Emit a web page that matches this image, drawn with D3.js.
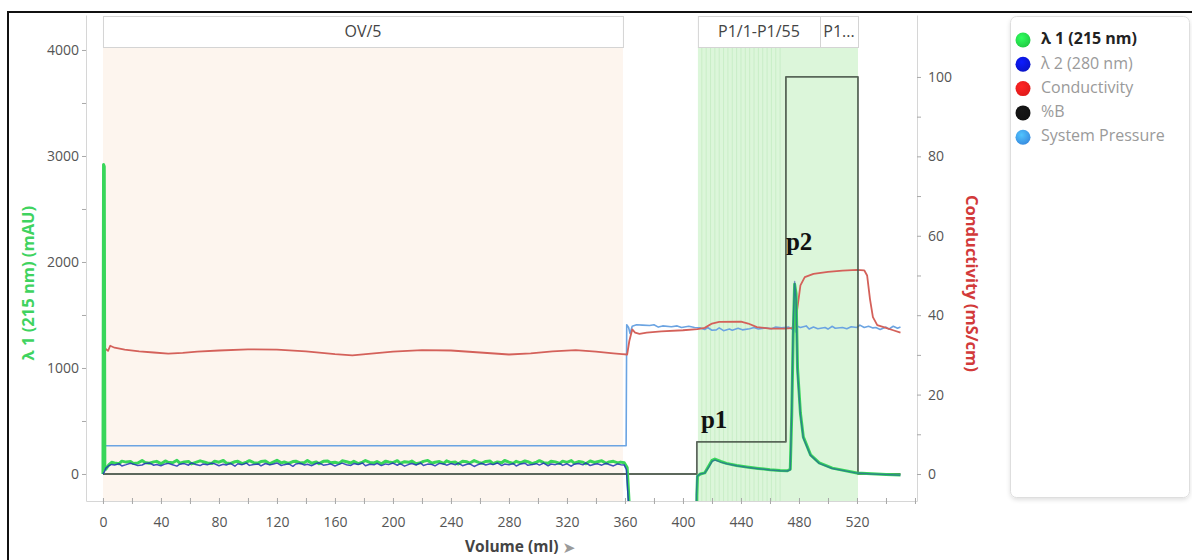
<!DOCTYPE html>
<html>
<head>
<meta charset="utf-8">
<script src="https://cdn.jsdelivr.net/npm/d3@7"></script>
<style>
  body { margin: 0; background: #fff; }
  text { font-family: "Open Sans", "Noto Sans", sans-serif; }
</style>
</head>
<body>
<svg id="chart" width="1192" height="560"></svg>
<script>
// ---- data (volume in ml) ----
const seriesNames = ["λ 1 (215 nm)", "λ 2 (280 nm)", "Conductivity", "%B", "System Pressure"];

// λ 1 (215 nm), mAU
const uv215 = [
  [0, 0], [0.4, 2920], [0.9, 2900], [1.3, 60], [2, 45], [4, 85], [6, 110], [8, 104], [11, 96], [13, 121], [16, 112],
  [19, 117], [21, 99], [24, 103], [27, 126], [29, 108], [32, 101], [35, 114], [37, 119], [40, 97], [43, 123],
  [45, 110], [48, 106], [51, 128], [53, 102], [56, 113], [59, 118], [61, 95], [64, 109], [67, 124], [69, 116],
  [72, 103], [75, 99], [77, 121], [80, 111], [83, 127], [85, 104], [88, 100], [91, 115], [93, 120], [96, 98],
  [99, 112], [101, 125], [104, 107], [107, 102], [109, 118], [112, 122], [115, 96], [117, 110], [120, 129],
  [123, 105], [125, 113], [128, 99], [131, 117], [133, 121], [136, 104], [139, 108], [141, 126], [144, 101],
  [147, 114], [149, 97], [152, 119], [155, 123], [157, 106], [160, 111], [163, 100], [165, 124], [168, 115],
  [171, 103], [173, 120], [176, 98], [179, 112], [181, 127], [184, 109], [187, 104], [189, 118], [192, 96],
  [195, 121], [197, 113], [200, 107], [203, 125], [205, 100], [208, 116], [211, 110], [213, 122], [216, 97],
  [219, 105], [221, 119], [224, 128], [227, 102], [229, 111], [232, 117], [235, 99], [237, 124], [240, 108],
  [243, 113], [245, 95], [248, 120], [251, 115], [253, 103], [256, 126], [259, 109], [261, 101], [264, 118],
  [267, 122], [269, 98], [272, 114], [275, 106], [277, 127], [280, 111], [283, 100], [285, 119], [288, 104],
  [291, 123], [293, 116], [296, 97], [299, 112], [301, 125], [304, 107], [307, 102], [309, 120], [312, 114],
  [315, 99], [317, 121], [320, 109], [323, 126], [325, 103], [328, 117], [331, 111], [333, 96], [336, 122],
  [339, 108], [341, 115], [344, 124], [347, 101], [349, 113], [352, 119], [355, 105], [357, 112],
  [359.5, 105], [361.5, 60], [363, -300], [364, -900],
  [409.2, -900], [409.6, -200], [410, -20], [412, 0], [415, 10], [418, 80], [420, 128], [422, 141], [426, 118],
  [430, 100], [437, 80], [444, 66], [452, 52], [460, 40], [467, 32], [472, 30], [474, 45], [475, 550],
  [476, 1300], [477, 1790], [478, 1700], [479, 1000], [481, 575], [483, 350], [488, 180], [494, 105],
  [503, 55], [520, 10], [530, 2], [540, -5], [550, -10]
];

// λ 2 (280 nm), mAU
const uv280 = [
  [0, 0], [1, 20], [2, 55], [4, 78], [6, 90], [8, 84], [11, 97], [13, 76], [16, 88], [19, 101], [21, 93],
  [24, 80], [27, 85], [29, 99], [32, 104], [35, 82], [37, 90], [40, 77], [43, 95], [45, 100], [48, 87],
  [51, 74], [53, 92], [56, 98], [59, 83], [61, 105], [64, 89], [67, 79], [69, 94], [72, 86], [75, 102],
  [77, 96], [80, 78], [83, 91], [85, 84], [88, 100], [91, 73], [93, 97], [96, 88], [99, 103], [101, 81],
  [104, 90], [107, 95], [109, 76], [112, 99], [115, 86], [117, 92], [120, 104], [123, 80], [125, 88],
  [128, 97], [131, 72], [133, 94], [136, 101], [139, 85], [141, 91], [144, 78], [147, 99], [149, 105],
  [152, 83], [155, 89], [157, 96], [160, 75], [163, 93], [165, 102], [168, 87], [171, 81], [173, 98],
  [176, 90], [179, 104], [181, 77], [184, 92], [187, 86], [189, 100], [192, 79], [195, 95], [197, 88],
  [200, 103], [203, 82], [205, 97], [208, 74], [211, 91], [213, 99], [216, 85], [219, 105], [221, 80],
  [224, 93], [227, 89], [229, 76], [232, 100], [235, 94], [237, 83], [240, 98], [243, 87], [245, 102],
  [248, 78], [251, 92], [253, 96], [256, 71], [259, 90], [261, 101], [264, 84], [267, 97], [269, 88],
  [272, 104], [275, 79], [277, 93], [280, 86], [283, 99], [285, 75], [288, 95], [291, 102], [293, 82],
  [296, 90], [299, 97], [301, 84], [304, 103], [307, 77], [309, 94], [312, 88], [315, 100], [317, 81],
  [320, 96], [323, 73], [325, 92], [328, 99], [331, 86], [333, 104], [336, 80], [339, 91], [341, 97],
  [344, 83], [347, 101], [349, 89], [352, 76], [355, 95], [357, 88],
  [359.5, 84], [361, 40], [362.5, -300], [363.5, -900],
  [409, -900], [409.3, -200], [409.8, -20], [412, 0], [415, 8], [418, 70], [420, 118], [422, 132], [426, 112],
  [430, 96], [437, 77], [444, 63], [452, 50], [460, 38], [467, 30], [472, 28], [474, 40], [475, 600],
  [476, 1400], [477, 1815], [478, 1650], [479, 960], [481, 560], [483, 340], [488, 175], [494, 100],
  [503, 52], [520, 8], [530, 0], [540, -6], [550, -12]
];

// Conductivity, mS/cm
const conductivity = [
  [0, 36.3], [1.5, 31.6], [3.5, 31.0], [5, 32.3], [8, 31.8], [15, 31.3], [25, 30.9], [35, 30.6], [45, 30.3],
  [55, 30.5], [65, 30.8], [80, 31.1], [100, 31.4], [120, 31.3], [140, 30.9], [160, 30.2], [172, 29.9],
  [185, 30.3], [200, 30.8], [220, 31.2], [240, 31.1], [260, 30.6], [280, 30.1], [295, 30.4], [310, 30.9],
  [326, 31.2], [340, 30.8], [352, 30.4], [358, 30.2], [361.5, 30.1], [363, 33.5], [365, 36.4], [367, 35.6],
  [370, 35.3], [375, 35.6], [385, 35.9], [400, 36.2], [410, 36.5], [415, 36.8], [420, 37.9], [425, 38.3],
  [440, 38.4], [445, 37.9], [451, 37.0], [460, 36.6], [470, 36.6], [477, 36.8], [479, 42], [481, 47.5],
  [484, 49.6], [490, 50.4], [500, 50.9], [510, 51.2], [520, 51.4], [525, 51.3], [527, 50], [529, 44],
  [531, 39.5], [534, 37.5], [540, 36.8], [545, 36.2], [550, 35.6]
];

// %B
const percentB = [
  [0, 0], [409.6, 0], [409.6, 8.1], [471, 8.1], [471, 100], [520.7, 100], [520.7, 0], [550, 0]
];

// System pressure (plotted on the right axis scale)
const pressure = [
  [0, 0], [0.3, 7.1], [360.8, 7.1], [361.2, 37.6], [362.5, 36.9], [363.5, 35.4], [365, 37.2], [368, 37.6],
  [372, 37.5], [377, 37.4], [380, 37.6], [383, 37.0], [386, 37.3], [392, 37.1], [396, 37.3], [399, 36.9],
  [404, 37.2], [408, 36.9], [412, 36.8], [415, 36.4], [417, 36.9], [420, 36.2], [423, 36.3], [425, 36.8],
  [428, 36.1], [432, 36.5], [434, 36.2], [438, 36.7], [441, 36.3], [446, 36.6], [449, 36.9], [452, 36.5],
  [457, 36.8], [461, 36.6], [464, 37.0], [468, 36.8], [473, 37.0], [475, 36.5], [476.5, 38.0], [477.5, 35.8],
  [479, 37.2], [481, 36.9], [485, 37.3], [487, 36.5], [490, 37.0], [493, 36.6], [498, 36.9], [500, 36.5],
  [503, 37.2], [505, 36.7], [510, 36.9], [513, 36.6], [516, 37.1], [520, 36.9], [522, 37.5], [525, 36.9],
  [528, 37.2], [531, 36.8], [533, 36.9], [536, 36.4], [540, 37.0], [542, 36.5], [545, 37.2], [548, 36.7],
  [550, 37.0]
];

// fractions
const fractionLabels = ["OV/5", "P1/1-P1/55", "P1..."];
const fractionStart = [0, 410.3, 494.5];
const fractionEnd = [358.6, 494.5, 520.7];
const fractionEdges = [413, 416, 419, 422, 425, 428, 431, 434, 437, 440, 443, 446, 449, 452, 455, 458, 461, 464, 467];

// ticks
const xTicks = [0, 20, 40, 60, 80, 100, 120, 140, 160, 180, 200, 220, 240, 260, 280, 300, 320, 340, 360,
  380, 400, 420, 440, 460, 480, 500, 520, 540, 560];
const xLabels = [0, 40, 80, 120, 160, 200, 240, 280, 320, 360, 400, 440, 480, 520];
const uvTicks = [0, 500, 1000, 1500, 2000, 2500, 3000, 3500, 4000];
const uvLabels = [0, 1000, 2000, 3000, 4000];
const condTicks = [0, 10, 20, 30, 40, 50, 60, 70, 80, 90, 100];
const condLabels = [0, 20, 40, 60, 80, 100];

// ---- chart ----
const colors = ["#38d65a", "#1f33b5", "#d4615a", "#4a584a", "#6ba4e2"];
const legendColors = ["#22cc44", "#0a14c8", "#e01a1a", "#111111", "#3a8ee0"];
const plot = { left: 86, right: 917, top: 15, bottom: 501 };

const svg = d3.select("#chart");

const x = d3.scaleLinear().domain([-11.7, 561.4]).range([plot.left, plot.right]);
const yUV = d3.scaleLinear().domain([-255, 4330]).range([plot.bottom, plot.top]);
const yCond = d3.scaleLinear().domain([-6.8, 115.6]).range([plot.bottom, plot.top]);

const defs = svg.append("defs");
defs.append("clipPath").attr("id", "clip")
  .append("rect")
  .attr("x", plot.left).attr("y", plot.top)
  .attr("width", plot.right - plot.left).attr("height", plot.bottom - plot.top);

const shadow = defs.append("filter").attr("id", "shadow")
  .attr("x", "-10%").attr("y", "-10%").attr("width", "120%").attr("height", "120%");
shadow.append("feDropShadow").attr("dx", 0).attr("dy", 2).attr("stdDeviation", 2)
  .attr("flood-color", "#000").attr("flood-opacity", 0.12);

// λ2 trace: solid over the baseline, blended with λ1 (teal) after the gap
const uv2Grad = defs.append("linearGradient").attr("id", "uv2grad")
  .attr("gradientUnits", "userSpaceOnUse")
  .attr("x1", x(380)).attr("x2", x(400)).attr("y1", 0).attr("y2", 0);
uv2Grad.append("stop").attr("offset", "0%").attr("stop-color", colors[1]).attr("stop-opacity", 0.85);
uv2Grad.append("stop").attr("offset", "100%").attr("stop-color", colors[1]).attr("stop-opacity", 0.5);

// Fraction regions
const headerTop = 16, headerBottom = 47;
fractionLabels.forEach((label, i) => {
  svg.append("rect")
    .attr("x", x(fractionStart[i]))
    .attr("y", headerBottom)
    .attr("width", x(fractionEnd[i]) - x(fractionStart[i]))
    .attr("height", plot.bottom - headerBottom)
    .attr("fill", i === 0 ? "#fdf5ee" : "#dcf6da");
});

svg.append("g")
  .selectAll("line")
  .data(fractionEdges)
  .join("line")
  .attr("x1", (d) => x(d)).attr("x2", (d) => x(d))
  .attr("y1", headerBottom).attr("y2", plot.bottom)
  .attr("stroke", "#c9eec7")
  .attr("stroke-width", 1);

fractionLabels.forEach((label, i) => {
  const x0 = x(fractionStart[i]), x1 = x(fractionEnd[i]);
  svg.append("rect")
    .attr("x", x0 + 0.5).attr("y", headerTop + 0.5)
    .attr("width", x1 - x0).attr("height", headerBottom - headerTop)
    .attr("fill", "#fff").attr("stroke", "#d4d4d4");
  svg.append("text")
    .attr("x", (x0 + x1) / 2).attr("y", (headerTop + headerBottom) / 2 + 1)
    .attr("text-anchor", "middle").attr("dominant-baseline", "middle")
    .attr("font-size", 16).attr("fill", "#444")
    .text(label);
});

// Axes
const xAxis = svg.append("g")
  .attr("transform", `translate(0,${plot.bottom})`)
  .call(d3.axisBottom(x).tickValues(xTicks).tickSize(3).tickSizeOuter(0).tickPadding(13)
    .tickFormat((d) => (xLabels.includes(d) ? d : "")));
xAxis.selectAll(".tick line").attr("y1", -3);

const leftAxis = svg.append("g")
  .attr("transform", `translate(${plot.left},0)`)
  .call(d3.axisLeft(yUV).tickValues(uvTicks).tickSize(4).tickSizeOuter(0).tickPadding(3)
    .tickFormat((d) => (uvLabels.includes(d) ? d : "")));

const rightAxis = svg.append("g")
  .attr("transform", `translate(${plot.right},0)`)
  .call(d3.axisRight(yCond).tickValues(condTicks).tickSize(4).tickSizeOuter(0).tickPadding(7)
    .tickFormat((d) => (condLabels.includes(d) ? d : "")));

[xAxis, leftAxis, rightAxis].forEach((a) => {
  a.select(".domain").attr("stroke", "#d6d6d6");
  a.selectAll(".tick line").attr("stroke", "#a8a8a8");
  a.selectAll(".tick text").attr("fill", "#555").attr("font-size", 14)
    .style("font-family", '"Open Sans", sans-serif');
});

// Axis titles
svg.append("text")
  .attr("transform", `translate(30,${yUV(1800)}) rotate(-90)`)
  .attr("text-anchor", "middle").attr("dominant-baseline", "middle")
  .attr("font-size", 16.5).attr("font-weight", "bold").attr("fill", "#3fd35f")
  .text("λ 1 (215 nm) (mAU)");

svg.append("text")
  .attr("transform", `translate(970,${yCond(48)}) rotate(90)`)
  .attr("text-anchor", "middle").attr("dominant-baseline", "middle")
  .attr("font-size", 16.5).attr("font-weight", "bold").attr("fill", "#d23a3a")
  .text("Conductivity (mS/cm)");

const xTitle = svg.append("text")
  .attr("x", 465).attr("y", 548)
  .attr("dominant-baseline", "middle")
  .attr("font-size", 15.5).attr("font-weight", "bold").attr("fill", "#444");
xTitle.append("tspan").text("Volume (ml) ");
xTitle.append("tspan").attr("fill", "#9a9a9a").attr("font-weight", "normal")
  .attr("font-family", "DejaVu Sans").text("➤");

// Curves
const lines = svg.append("g").attr("clip-path", "url(#clip)").attr("fill", "none")
  .attr("stroke-linejoin", "round");
const lineCond = d3.line().x((d) => x(d[0])).y((d) => yCond(d[1]));
const lineUV = d3.line().x((d) => x(d[0])).y((d) => yUV(d[1]));

lines.append("path").datum(pressure).attr("d", lineCond)
  .attr("stroke", colors[4]).attr("stroke-width", 1.6);
lines.append("path").datum(conductivity).attr("d", lineCond)
  .attr("stroke", colors[2]).attr("stroke-width", 1.8);
lines.append("path").datum(percentB).attr("d", lineCond)
  .attr("stroke", colors[3]).attr("stroke-width", 1.8).attr("stroke-opacity", 0.9);
lines.append("path").datum(uv215).attr("d", lineUV)
  .attr("stroke", colors[0]).attr("stroke-width", 3);
lines.append("path").datum(uv280).attr("d", lineUV)
  .attr("stroke", "url(#uv2grad)").attr("stroke-width", 1.5);

// Peak labels
svg.append("text")
  .attr("x", x(409.6) + 4).attr("y", yCond(11.5))
  .style("font-family", '"Liberation Serif", serif')
  .attr("font-size", 25).attr("font-weight", "bold").attr("fill", "#111")
  .text("p1");
svg.append("text")
  .attr("x", x(471)).attr("y", yCond(56.4))
  .style("font-family", '"Liberation Serif", serif')
  .attr("font-size", 25).attr("font-weight", "bold").attr("fill", "#111")
  .text("p2");

// Legend
svg.append("rect")
  .attr("x", 1010.5).attr("y", 16.5).attr("width", 179).attr("height", 481).attr("rx", 6)
  .attr("fill", "#fff").attr("stroke", "#dedede").attr("filter", "url(#shadow)");

legendColors.forEach((c, i) => {
  const g = defs.append("radialGradient").attr("id", `lg${i}`)
    .attr("cx", "40%").attr("cy", "35%").attr("r", "65%");
  g.append("stop").attr("offset", "0%").attr("stop-color", d3.color(c).brighter(0.9));
  g.append("stop").attr("offset", "100%").attr("stop-color", c);
});

const legend = svg.append("g")
  .selectAll("g")
  .data(seriesNames)
  .join("g")
  .attr("transform", (d, i) => `translate(1023,${40 + i * 24.3})`);
legend.append("circle").attr("r", 7.5).attr("fill", (d, i) => `url(#lg${i})`);
legend.append("text")
  .attr("x", 18).attr("dominant-baseline", "middle")
  .attr("font-size", 16)
  .attr("font-weight", (d, i) => (i === 0 ? "bold" : "normal"))
  .attr("fill", (d, i) => (i === 0 ? "#222" : "#9a9a9a"))
  .text((d) => d);

// Outer frame
svg.append("rect")
  .attr("x", 8).attr("y", 12).attr("width", 1300).attr("height", 700)
  .attr("fill", "none").attr("stroke", "#111").attr("stroke-width", 2);
</script>
</body>
</html>
